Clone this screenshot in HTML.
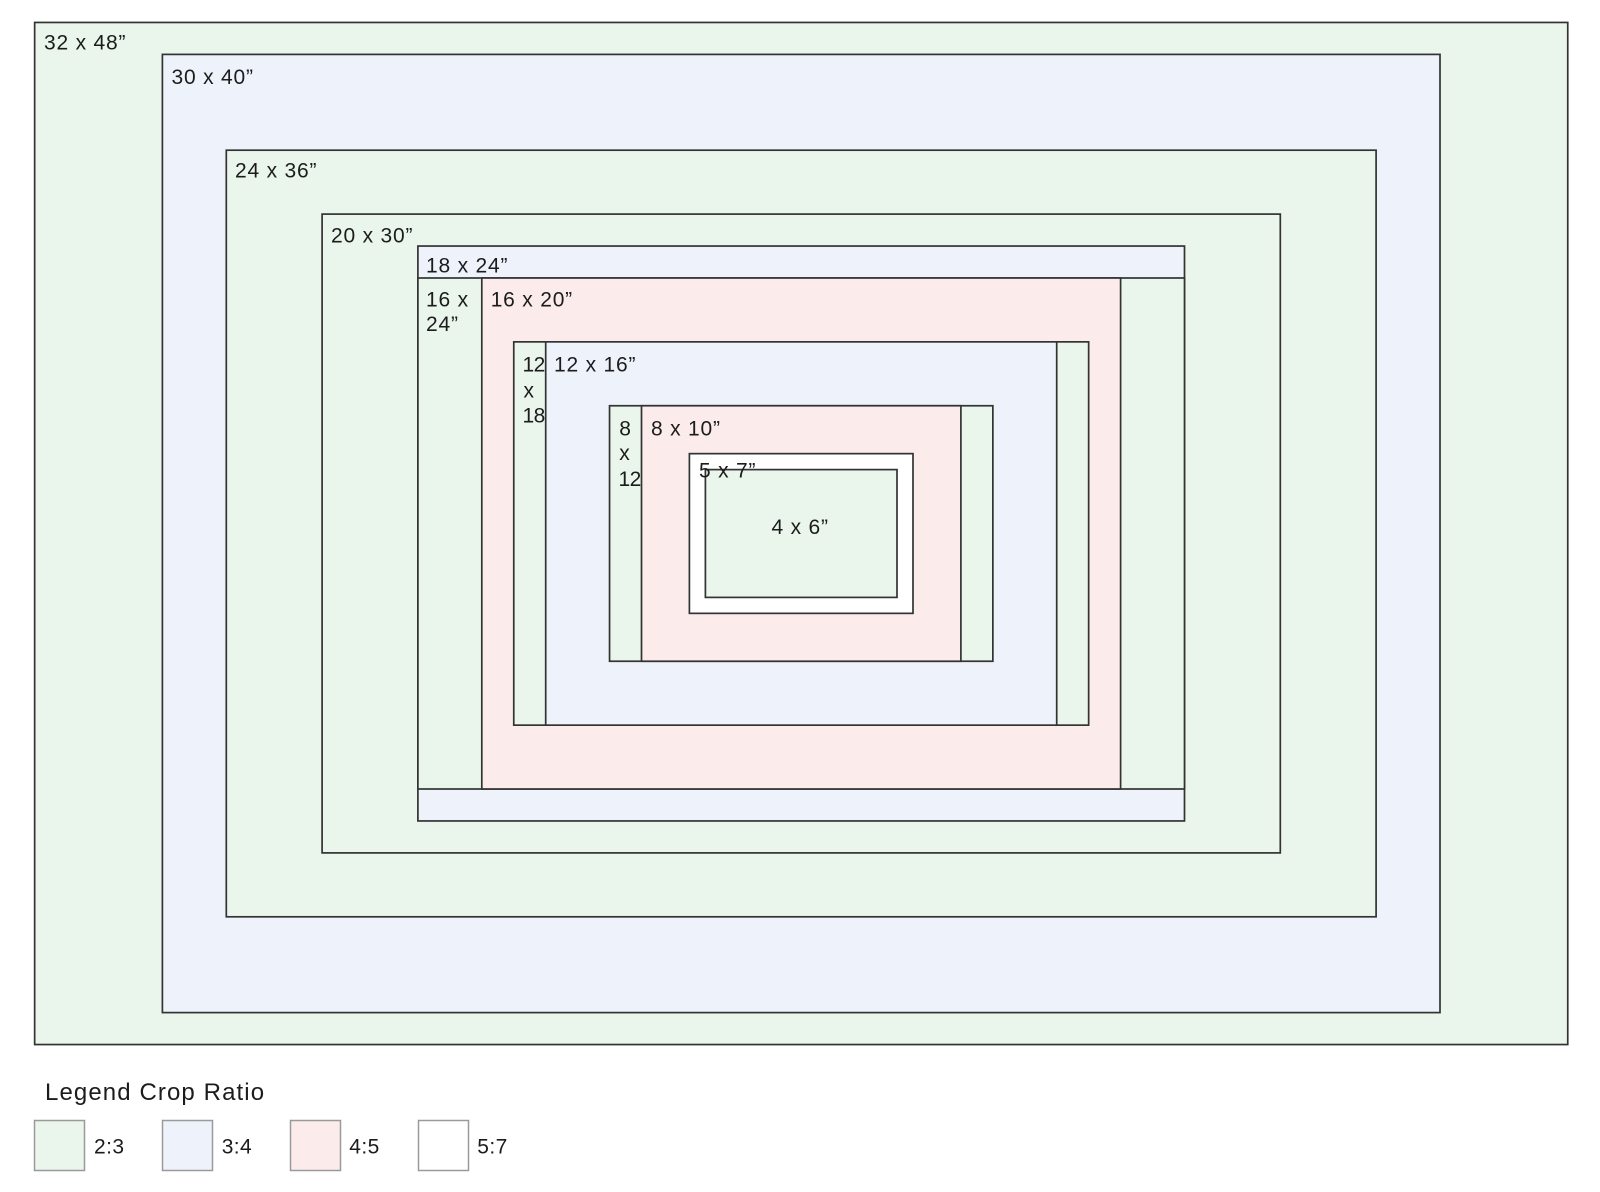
<!DOCTYPE html>
<html>
<head>
<meta charset="utf-8">
<style>
  html, body { margin:0; padding:0; background:#ffffff; }
  body { width:1600px; height:1192px; overflow:hidden; }
  svg { display:block; }
  text { font-family: "Liberation Sans", "DejaVu Sans", sans-serif; fill:#1c1c1c; }
</style>
</head>
<body>
<svg width="1600" height="1192" viewBox="0 0 1600 1192" xmlns="http://www.w3.org/2000/svg">
  <rect x="0" y="0" width="1600" height="1192" fill="#ffffff"/>
  <g stroke="#333333" stroke-width="1.7">
    <rect x="34.65" y="22.45" width="1533.1" height="1022.1" fill="#eaf5ec"/>
    <rect x="162.4" y="54.4" width="1277.6" height="958.2" fill="#eef2fb"/>
    <rect x="226.3" y="150.2" width="1149.8" height="766.6" fill="#eaf5ec"/>
    <rect x="322.1" y="214.1" width="958.2" height="638.8" fill="#eaf5ec"/>
    <rect x="417.9" y="246.05" width="766.6" height="574.9" fill="#eef2fb"/>
    <rect x="417.9" y="278.0" width="766.6" height="511" fill="#eaf5ec"/>
    <rect x="481.8" y="278.0" width="638.8" height="511" fill="#fbeceb"/>
    <rect x="513.75" y="341.85" width="574.9" height="383.3" fill="#eaf5ec"/>
    <rect x="545.7" y="341.85" width="511" height="383.3" fill="#eef2fb"/>
    <rect x="609.55" y="405.75" width="383.3" height="255.5" fill="#eaf5ec"/>
    <rect x="641.5" y="405.75" width="319.4" height="255.5" fill="#fbeceb"/>
    <rect x="689.4" y="453.65" width="223.6" height="159.7" fill="#ffffff"/>
    <rect x="705.4" y="469.6" width="191.6" height="127.8" fill="#eaf5ec"/>
  </g>

  <g font-size="21" letter-spacing="0.8">
    <text x="44" y="49.5">32 x 48”</text>
    <text x="171.5" y="84">30 x 40”</text>
    <text x="235" y="177.7">24 x 36”</text>
    <text x="331" y="242.3">20 x 30”</text>
    <text x="426" y="272.3">18 x 24”</text>
    <text x="426" y="306.7">16 x</text>
    <text x="426" y="331">24”</text>
    <text x="490.7" y="306.7">16 x 20”</text>
    <text x="554" y="371.7">12 x 16”</text>
    <text x="651" y="435.7">8 x 10”</text>
    <text x="699" y="477.5">5 x 7”</text>
    <text x="771.5" y="534">4 x 6”</text>
  </g>
  <g font-size="21" letter-spacing="-0.5">
    <text x="522.5" y="371.7">12</text>
    <text x="523.5" y="397.3">x</text>
    <text x="522.5" y="422.7">18</text>
    <text x="619.3" y="435.7">8</text>
    <text x="619.3" y="460">x</text>
    <text x="618.5" y="486">12</text>
  </g>

  <text x="45" y="1100" font-size="24" letter-spacing="1.1">Legend Crop Ratio</text>
  <g stroke="#9a9a9a" stroke-width="1.5">
    <rect x="34.5" y="1120.5" width="50" height="50" fill="#eaf5ec"/>
    <rect x="162.5" y="1120.5" width="50" height="50" fill="#eef2fb"/>
    <rect x="290.5" y="1120.5" width="50" height="50" fill="#fbeceb"/>
    <rect x="418.5" y="1120.5" width="50" height="50" fill="#ffffff"/>
  </g>
  <g font-size="21" letter-spacing="0.4">
    <text x="94" y="1153.3">2:3</text>
    <text x="221.7" y="1153.3">3:4</text>
    <text x="349.3" y="1153.3">4:5</text>
    <text x="477.3" y="1153.3">5:7</text>
  </g>
</svg>
</body>
</html>
